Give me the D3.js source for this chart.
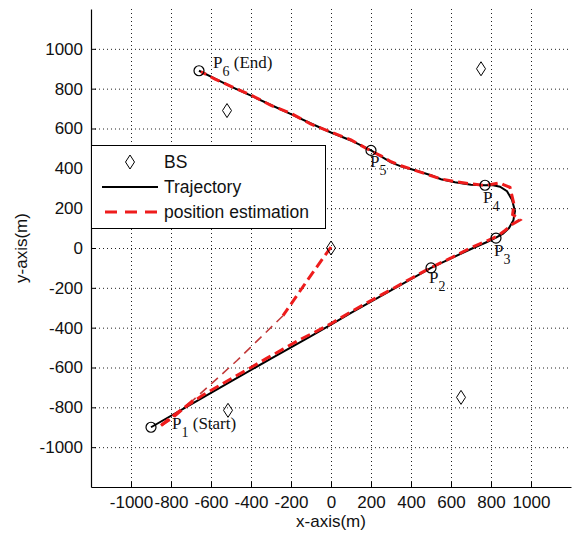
<!DOCTYPE html>
<html>
<head>
<meta charset="utf-8">
<script src="https://cdn.jsdelivr.net/npm/d3@7"></script>
<style>
  body { margin: 0; background: #fff; }
  text { font-family: "Liberation Sans", Arial, sans-serif; }
  text.wlab { font-family: "Liberation Serif", "Times New Roman", serif; }
</style>
</head>
<body>
<script>
const xTicks = [-1000, -800, -600, -400, -200, 0, 200, 400, 600, 800, 1000];
const yTicks = [-1000, -800, -600, -400, -200, 0, 200, 400, 600, 800, 1000];

// base stations
const bs = [[0, 0], [-520, 690], [750, 900], [-515, -815], [650, -750]];

// waypoints P1..P6
const waypoints = [
  { id: "1", note: " (Start)", x: -900, y: -900 },
  { id: "2", note: "", x: 500, y: -100 },
  { id: "3", note: "", x: 825, y: 50 },
  { id: "4", note: "", x: 770, y: 315 },
  { id: "5", note: "", x: 200, y: 490 },
  { id: "6", note: " (End)", x: -660, y: 890 }
];

const trajectory = [
  [-900, -900], [-700, -785], [-500, -670], [-300, -555], [-100, -442], [0, -385],
  [100, -326], [300, -213], [500, -100], [600, -52], [700, -5], [780, 30], [825, 52],
  [860, 72], [890, 100], [912, 140], [920, 185], [905, 242], [880, 285], [845, 308],
  [805, 316], [770, 315], [700, 318], [620, 330], [550, 345], [500, 365], [420, 390],
  [350, 410], [300, 430], [250, 460], [200, 490], [100, 540], [0, 580], [-100, 625],
  [-200, 672], [-300, 718], [-400, 765], [-500, 810], [-580, 850], [-660, 890]
];

// estimation: initial jump from the BS at origin, then tracking
const estStart = [[0, 5], [-120, -165], [-240, -340]];
const estMid = [[-240, -340], [-470, -565], [-690, -765]];
const estEnd = [[-690, -765], [-790, -850], [-850, -890]];
const estTrack = [
  [-850, -892], [-800, -850], [-720, -792], [-640, -738], [-560, -692], [-480, -645],
  [-400, -600], [-320, -553], [-240, -508], [-160, -462], [-80, -422], [0, -380],
  [100, -320], [200, -264], [300, -209], [400, -153], [500, -98], [600, -50], [700, 2],
  [780, 36], [830, 58], [870, 88], [905, 118], [945, 141], [908, 168], [915, 220],
  [905, 262], [895, 305], [862, 318], [845, 327], [805, 320], [770, 314], [700, 322],
  [620, 333], [550, 347], [480, 370], [420, 390], [350, 413], [300, 433], [250, 463],
  [200, 487], [100, 543], [0, 582], [-100, 622], [-200, 676], [-300, 716], [-400, 768],
  [-500, 812], [-580, 848], [-650, 885]
];

const W = 573, H = 539;
const x = d3.scaleLinear().domain([-1200, 1200]).range([91, 571]);
const y = d3.scaleLinear().domain([-1200, 1200]).range([487, 9]);

const svg = d3.select("body").append("svg").attr("width", W).attr("height", H);

// dotted grid
const grid = svg.append("g").attr("stroke", "#222").attr("stroke-width", 1)
  .attr("stroke-dasharray", "1,3");
grid.selectAll(".gx").data(xTicks).enter().append("line")
  .attr("x1", d => x(d) + 0.5).attr("x2", d => x(d) + 0.5)
  .attr("y1", y(1200)).attr("y2", y(-1200));
grid.selectAll(".gy").data(yTicks).enter().append("line")
  .attr("y1", d => y(d) + 0.5).attr("y2", d => y(d) + 0.5)
  .attr("x1", x(-1200)).attr("x2", x(1200));

// axes
const fmt = d => String(d);
const xAxis = svg.append("g").attr("transform", "translate(0," + y(-1200) + ")")
  .call(d3.axisBottom(x).tickValues(xTicks).tickFormat(fmt).tickSizeInner(-5).tickSizeOuter(0).tickPadding(9));
const yAxis = svg.append("g").attr("transform", "translate(" + x(-1200) + ",0)")
  .call(d3.axisLeft(y).tickValues(yTicks).tickFormat(fmt).tickSizeInner(-5).tickSizeOuter(0).tickPadding(8));
[xAxis, yAxis].forEach(a => {
  a.selectAll("text").attr("font-size", 17).attr("fill", "#111")
    .attr("font-family", "'Liberation Sans', Arial, sans-serif");
  a.select(".domain").attr("stroke", "#000").attr("stroke-width", 1.2);
  a.selectAll(".tick line").attr("stroke", "#000");
});

svg.append("text").attr("x", 331).attr("y", 527).attr("text-anchor", "middle")
  .attr("font-size", 17).attr("fill", "#111").text("x-axis(m)");
svg.append("text").attr("transform", "translate(27,248) rotate(-90)")
  .attr("text-anchor", "middle").attr("font-size", 17).attr("fill", "#111").text("y-axis(m)");

const line = d3.line().x(d => x(d[0])).y(d => y(d[1]));

// trajectory
svg.append("path").datum(trajectory).attr("d", line)
  .attr("fill", "none").attr("stroke", "#000").attr("stroke-width", 2);

// estimation
const red = "#ee1c1c";
[estStart, estEnd, estTrack].forEach(s => {
  svg.append("path").datum(s).attr("d", line).attr("fill", "none")
    .attr("stroke", red).attr("stroke-width", 3).attr("stroke-dasharray", "10,5");
});
svg.append("path").datum(estMid).attr("d", line).attr("fill", "none")
  .attr("stroke", "#c23a3a").attr("stroke-width", 1.6).attr("stroke-dasharray", "9,6");

// base stations
const diamond = (cx, cy) => `M${cx},${cy - 7}L${cx + 4.5},${cy}L${cx},${cy + 7}L${cx - 4.5},${cy}Z`;
svg.selectAll(".bs").data(bs).enter().append("path")
  .attr("d", d => diamond(x(d[0]), y(d[1])))
  .attr("fill", "none").attr("stroke", "#000").attr("stroke-width", 1);

// waypoint circles and labels
const labelOff = { "1": [21, 2], "2": [-2, 15], "3": [-2, 18], "4": [-2, 18], "5": [-1, 17], "6": [14, -3] };
svg.selectAll(".wp").data(waypoints).enter().append("circle")
  .attr("cx", d => x(d.x)).attr("cy", d => y(d.y)).attr("r", 5)
  .attr("fill", "none").attr("stroke", "#000").attr("stroke-width", 1.2);
const lab = svg.selectAll(".lab").data(waypoints).enter().append("text")
  .attr("class", "wlab")
  .attr("x", d => x(d.x) + labelOff[d.id][0]).attr("y", d => y(d.y) + labelOff[d.id][1])
  .attr("font-size", 17).attr("fill", "#111");
lab.append("tspan").text("P");
lab.append("tspan").attr("dy", 8).attr("font-size", 14).text(d => d.id);
lab.append("tspan").attr("dy", -8).text(d => d.note);

// legend
const lg = svg.append("g");
lg.append("rect").attr("x", 91.5).attr("y", 145.5).attr("width", 234).attr("height", 83)
  .attr("fill", "#fff").attr("stroke", "#000").attr("stroke-width", 1);
const rows = [
  { label: "BS", cy: 162 },
  { label: "Trajectory", cy: 187 },
  { label: "position estimation", cy: 212 }
];
lg.append("path").attr("d", diamond(130, rows[0].cy)).attr("fill", "none").attr("stroke", "#000");
lg.append("line").attr("x1", 102).attr("x2", 158).attr("y1", rows[1].cy).attr("y2", rows[1].cy)
  .attr("stroke", "#000").attr("stroke-width", 2);
lg.append("line").attr("x1", 105).attr("x2", 158).attr("y1", rows[2].cy).attr("y2", rows[2].cy)
  .attr("stroke", red).attr("stroke-width", 3).attr("stroke-dasharray", "12,8");
lg.selectAll(".lt").data(rows).enter().append("text")
  .attr("x", 164).attr("y", d => d.cy).attr("dy", "0.36em")
  .attr("font-size", 17.5).attr("fill", "#111").text(d => d.label);
</script>
</body>
</html>
